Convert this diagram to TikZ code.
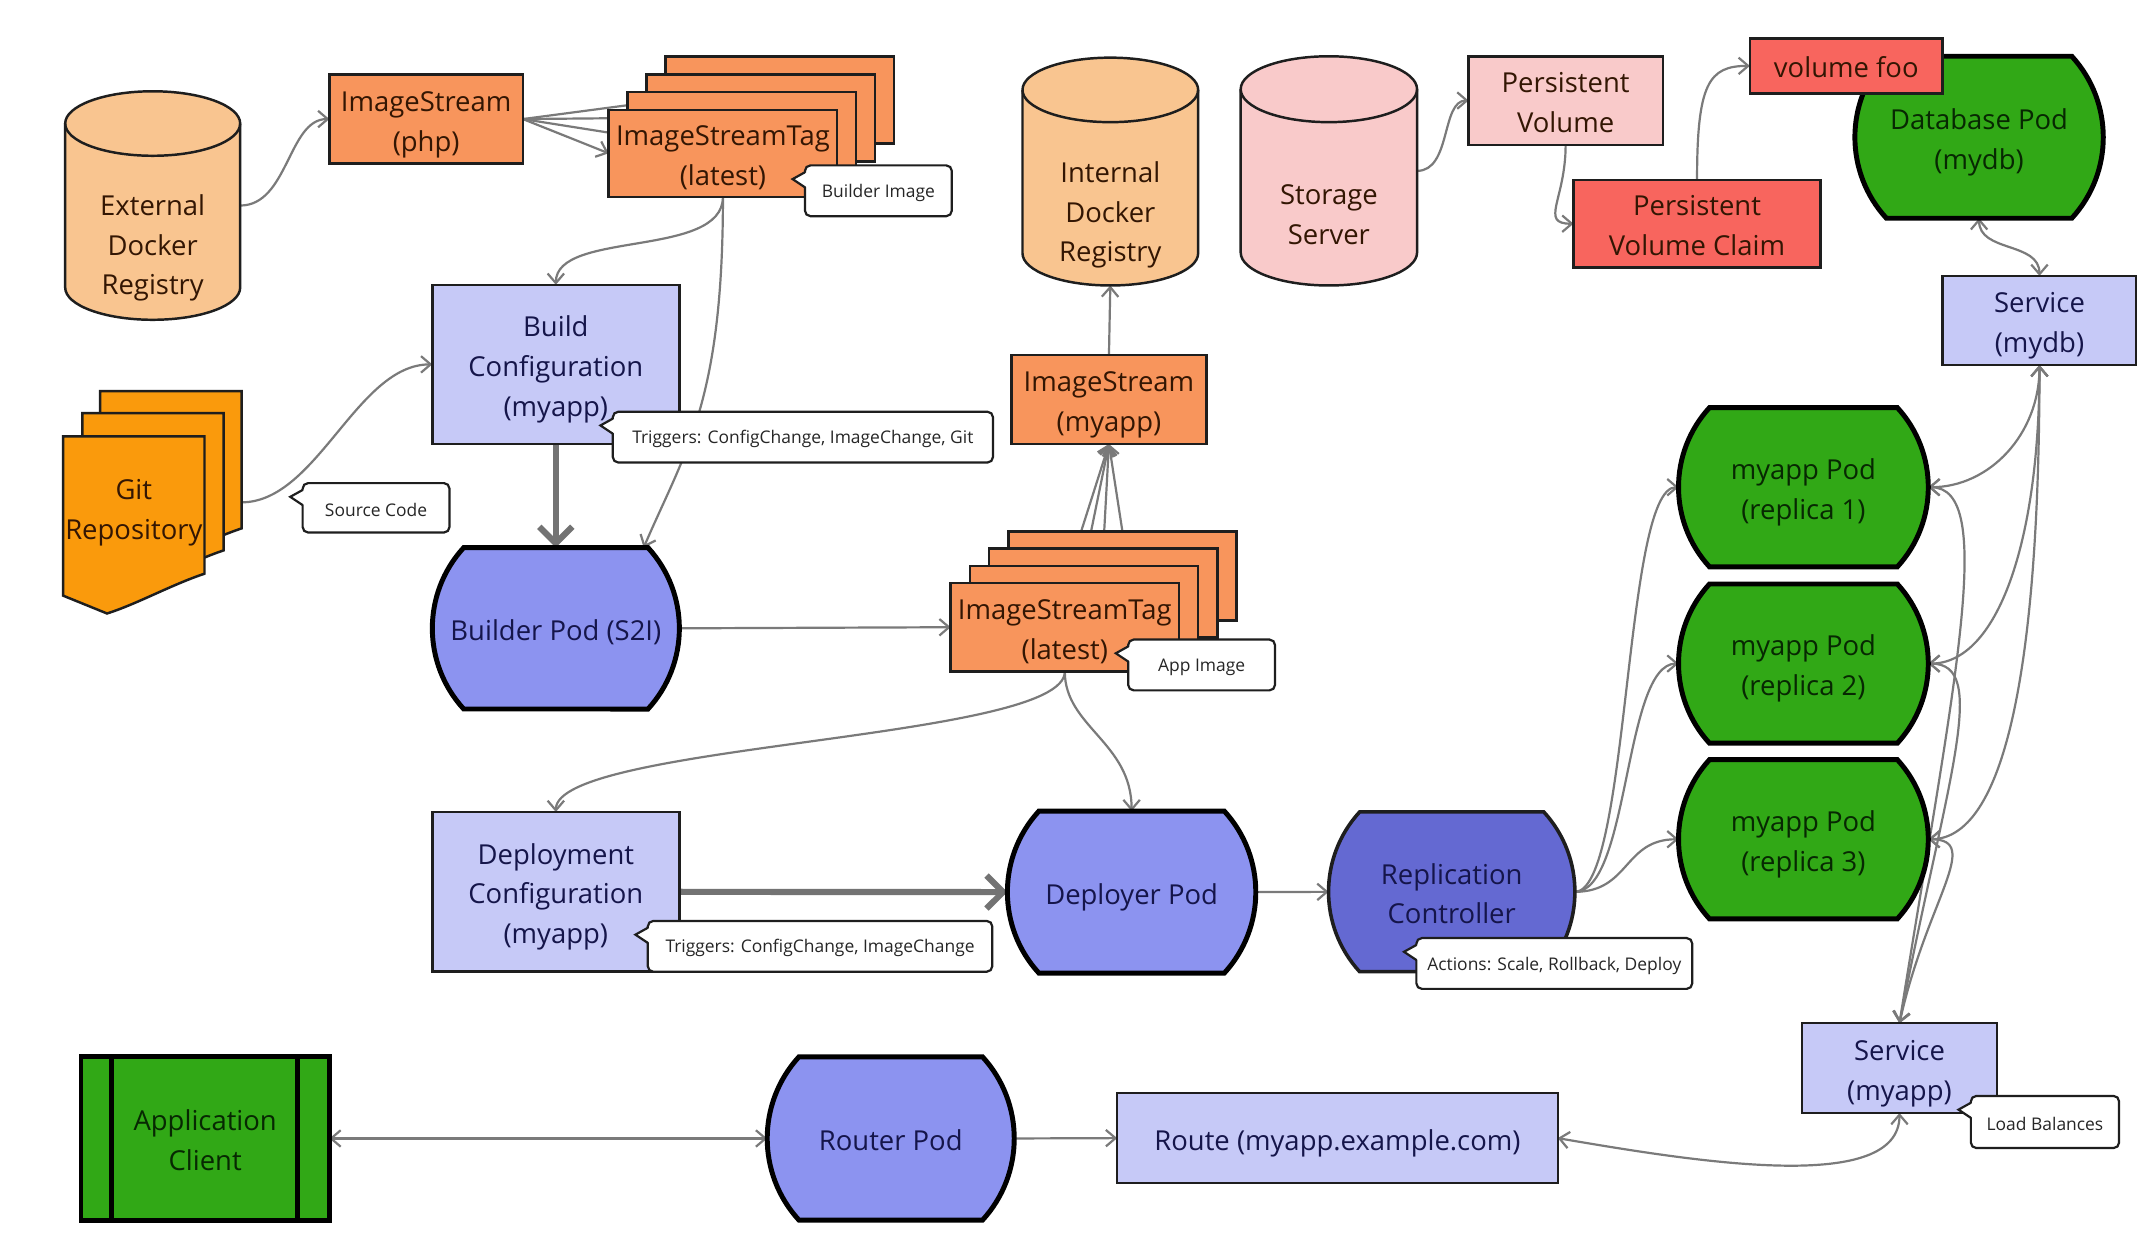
\documentclass[tikz,border=0pt]{standalone}
\usepackage{fontspec}
\setmainfont{Open Sans}
\usetikzlibrary{shapes.misc,arrows.meta,calc}
\pgfdeclarelayer{bgwhite}
\pgfdeclarelayer{links}
\pgfsetlayers{bgwhite,links,main}
\definecolor{peach}{HTML}{F9C590}
\definecolor{orng}{HTML}{F8955C}
\definecolor{gitor}{HTML}{FA9A0C}
\definecolor{lav}{HTML}{C6C9F7}
\definecolor{podblue}{HTML}{8C93F0}
\definecolor{rcblue}{HTML}{6469D2}
\definecolor{grn}{HTML}{31A816}
\definecolor{pinkbox}{HTML}{F9CACA}
\definecolor{redbox}{HTML}{F8655E}
\definecolor{conn}{HTML}{7A7A7A}
\definecolor{txtbrown}{HTML}{331603}
\definecolor{txtnavy}{HTML}{15154A}
\definecolor{txtgreen}{HTML}{072802}
\definecolor{edge}{HTML}{1E1E1E}
\tikzset{
  every node/.style={inner sep=0pt, outer sep=0pt, align=center, font=\fontsize{20}{29}\selectfont},
  hold/.style={draw=none, fill=none},
  rectn/.style={draw=edge, line width=1.8pt},
  podn/.style={rounded rectangle, rounded rectangle arc length=85, draw=black, line width=3.6pt},
  callout/.style={draw=edge, line width=1.6pt, fill=white, rounded corners=4pt, font=\fontsize{12.7}{15}\selectfont, text=black!85},
  link/.style={draw=conn, line width=1.6pt},
  thicklink/.style={draw=black!55, line width=4.5pt, arrows={-Straight Barb[length=12pt,width=24pt]}},
  >={Straight Barb[length=7pt,width=12pt]}
}
\newcommand\tl[1]{\raisebox{-3pt}[\height][\depth]{\begin{tabular}{@{}c@{}}#1\end{tabular}}}
\newcommand\cl[1]{\raisebox{-1.5pt}[\height][\depth]{#1}}
\newcommand\cylsh[6]{% x1 y1 x2 y2 fill ry
  \path[draw=edge, line width=1.8pt, fill=#5]
    (#1,#2+#6) -- (#1,#4-#6)
    arc[start angle=180, end angle=0, x radius={(#3-#1)/2}, y radius=#6]
    -- (#3,#2+#6)
    arc[start angle=0, end angle=-180, x radius={(#3-#1)/2}, y radius=#6]
    -- cycle;
  \draw[edge, line width=1.8pt] (#1,#2+#6)
    arc[start angle=180, end angle=0, x radius={(#3-#1)/2}, y radius=#6];
}
\newcommand\gitdoc[2]{%
  \draw[fill=gitor, draw=edge, line width=1.8pt, shift={(#1,#2)}]
    (46,318) -- (149,318) -- (149,418) .. controls (125,426) and (100,440) .. (78,447) -- (46,434) -- cycle;
}
\newcommand\tail[1]{%
  \fill[white] ($(#1.north west)+(1.5,5)$) -- ++(-10.5,5) -- ++(10.5,6) -- cycle;
  \draw[edge, line width=1.6pt, line join=miter] ($(#1.north west)+(0,5)$) -- ++(-9,5) -- ++(9,6);
}
\begin{document}
\begin{tikzpicture}[x=1pt,y=-1pt]
\begin{pgfonlayer}{bgwhite}
\fill[white] (0,0) rectangle (1568,913.7);
\end{pgfonlayer}
\useasboundingbox (0,0) rectangle (1568,913.7);

% --- cylinders
\cylsh{47.5}{66.5}{175}{233}{peach}{23.5}
\node[hold, minimum width=127.5, minimum height=166.5] (edr) at (111.25,149.75) {};
\node[text=txtbrown] (edrt) at (111.25,177) {\tl{External\\Docker\\Registry}};
\cylsh{745}{42}{873}{208}{peach}{23.5}
\node[hold, minimum width=128, minimum height=166] (idr) at (809,125) {};
\node[text=txtbrown] (idrt) at (809,153) {\tl{Internal\\Docker\\Registry}};
\cylsh{904}{41}{1032.5}{208}{pinkbox}{24}
\node[hold, minimum width=128.5, minimum height=167] (ss) at (968.25,124.5) {};
\node[text=txtbrown] (sst) at (968.25,154.5) {\tl{Storage\\Server}};

% --- image streams
\node[rectn, fill=orng, text=txtbrown, minimum width=141, minimum height=65] (isphp) at (310.5,86.75) {\tl{ImageStream\\(php)}};
\node[rectn, fill=orng, minimum width=166.5, minimum height=63.4] (ist1d) at (568.15,73.0) {};
\node[rectn, fill=orng, minimum width=166.5, minimum height=63.4] (ist1c) at (554.35,85.9) {};
\node[rectn, fill=orng, minimum width=166.5, minimum height=63.4] (ist1b) at (540.55,98.8) {};
\node[rectn, fill=orng, text=txtbrown, minimum width=166.5, minimum height=63.4] (ist1a) at (526.75,111.7) {\tl{ImageStreamTag\\(latest)}};

\node[rectn, fill=orng, text=txtbrown, minimum width=142, minimum height=64.8] (ismy) at (808,291.1) {\tl{ImageStream\\(myapp)}};
\node[rectn, fill=orng, minimum width=166.3, minimum height=64.8] (ist2d) at (817.85,419.8) {};
\node[rectn, fill=orng, minimum width=166.3, minimum height=64.8] (ist2c) at (803.85,432.2) {};
\node[rectn, fill=orng, minimum width=166.3, minimum height=64.8] (ist2b) at (789.85,444.6) {};
\node[rectn, fill=orng, text=txtbrown, minimum width=166.3, minimum height=64.8] (ist2a) at (775.85,457) {\tl{ImageStreamTag\\(latest)}};

% --- git
\gitdoc{27}{-33}
\gitdoc{14}{-17}
\gitdoc{0}{0}
\node[hold, minimum width=130, minimum height=162] (git) at (111,366) {};
\node[text=txtbrown] (gitt) at (97.5,370) {\tl{Git\\Repository}};

% --- build
\node[rectn, fill=lav, text=txtnavy, minimum width=180, minimum height=116] (bc) at (405,265.5) {\tl{Build\\Configuration\\(myapp)}};
\node[podn, fill=podblue, text=txtnavy, minimum width=180, minimum height=117.6] (bp) at (405,457.8) {\tl{Builder Pod (S2I)}};

% --- storage
\node[rectn, fill=pinkbox, text=txtbrown, minimum width=141.5, minimum height=64.5] (pv) at (1140.75,73.25) {\tl{Persistent\\Volume}};
\node[rectn, fill=redbox, text=txtbrown, minimum width=180, minimum height=64] (pvc) at (1236.5,163) {\tl{Persistent\\Volume Claim}};
\node[podn, fill=grn, text=txtgreen, minimum width=181, minimum height=118] (db) at (1442,100) {\tl{Database Pod\\(mydb)}};
\node[rectn, fill=redbox, text=txtbrown, minimum width=140.5, minimum height=40] (vfoo) at (1345.25,48) {\tl{volume foo}};
\node[rectn, fill=lav, text=txtnavy, minimum width=141, minimum height=65] (smydb) at (1486,233.5) {\tl{Service\\(mydb)}};

% --- replicas
\node[podn, fill=grn, text=txtgreen, minimum width=182, minimum height=116] (r1) at (1314,355) {\tl{myapp Pod\\(replica 1)}};
\node[podn, fill=grn, text=txtgreen, minimum width=182, minimum height=116] (r2) at (1314,483.5) {\tl{myapp Pod\\(replica 2)}};
\node[podn, fill=grn, text=txtgreen, minimum width=182, minimum height=116] (r3) at (1314,611.5) {\tl{myapp Pod\\(replica 3)}};

% --- deploy
\node[rectn, fill=lav, text=txtnavy, minimum width=180, minimum height=116.4] (dc) at (405,649.8) {\tl{Deployment\\Configuration\\(myapp)}};
\node[podn, fill=podblue, text=txtnavy, minimum width=181, minimum height=118] (dp) at (824.5,650) {\tl{Deployer Pod}};
\node[podn, fill=rcblue, text=txtnavy, draw=edge, line width=2.6pt, minimum width=179.5, minimum height=116.4] (rc) at (1057.75,649.8) {\tl{Replication\\Controller}};

% --- bottom row
\node[rectn, fill=lav, text=txtnavy, minimum width=142, minimum height=65.5] (smy) at (1384,778.25) {\tl{Service\\(myapp)}};
\node[rectn, fill=lav, text=txtnavy, minimum width=321, minimum height=65.5] (route) at (974.5,829.25) {\tl{Route (myapp.example.com)}};
\node[draw=black, line width=3.6pt, fill=grn, text=txtgreen, minimum width=181, minimum height=119] (ac) at (149.5,829.5) {\tl{Application\\Client}};
\draw[black, line width=3.6pt] ([xshift=22.5pt]ac.north west) -- ([xshift=22.5pt]ac.south west);
\draw[black, line width=3.6pt] ([xshift=-23pt]ac.north east) -- ([xshift=-23pt]ac.south east);
\node[podn, fill=podblue, text=txtnavy, minimum width=180, minimum height=119] (router) at (649,829.5) {\tl{Router Pod}};

% --- callouts
\node[callout, minimum width=107, minimum height=37] (cbi) at (640,139) {\cl{Builder Image}};
\tail{cbi}
\node[callout, minimum width=277, minimum height=37] (ctr1) at (585,318.5) {\cl{Triggers: ConfigChange, ImageChange, Git}};
\tail{ctr1}
\node[callout, minimum width=107, minimum height=36] (csrc) at (274,370) {\cl{Source Code}};
\tail{csrc}
\node[callout, minimum width=107, minimum height=37] (capp) at (875.5,484.5) {\cl{App Image}};
\tail{capp}
\node[callout, minimum width=251, minimum height=37] (ctr2) at (597.5,689.5) {\cl{Triggers: ConfigChange, ImageChange}};
\tail{ctr2}
\node[callout, minimum width=201, minimum height=37] (cact) at (1132.5,702) {\cl{Actions: Scale, Rollback, Deploy}};
\tail{cact}
\node[callout, minimum width=108, minimum height=38] (clb) at (1490,817.5) {\cl{Load Balances}};
\tail{clb}

% --- connectors
\begin{pgfonlayer}{links}
\draw[link,->] (edr.east) .. controls +(35,0) and +(-30,0) .. (isphp.west);
\draw[link,->] (isphp.east) -- (ist1a.west);
\draw[link,->] (isphp.east) -- (ist1b.west);
\draw[link,->] (isphp.east) -- (ist1c.west);
\draw[link,->] (isphp.east) -- (ist1d.west);
\draw[link,->] (ist1a.south) .. controls +(0,45) and +(0,-40) .. (bc.north);
\draw[link,->] (ist1a.south) .. controls +(0,150) and +(30,-70) .. ([xshift=64pt]bp.north);
\draw[link,->] (git.east) .. controls +(55,0) and +(-55,0) .. (bc.west);
\draw[thicklink] (bc.south) -- (bp.north);
\draw[link,->] (bp.east) -- (ist2a.west);
\draw[link,->] (ist2a.north) -- (ismy.south);
\draw[link,->] (ist2b.north) -- (ismy.south);
\draw[link,->] (ist2c.north) -- (ismy.south);
\draw[link,->] (ist2d.north) -- (ismy.south);
\draw[link,->] (ismy.north) -- (idr.south);
\draw[link,->] (ss.east) .. controls +(25,0) and +(-20,0) .. (pv.west);
\draw[link,->] (pv.south) .. controls +(0,40) and +(-25,0) .. (pvc.west);
\draw[link,->] (pvc.north) .. controls +(0,-70) and +(-30,0) .. (vfoo.west);
\draw[link,<->] (db.south) .. controls +(0,25) and +(0,-25) .. (smydb.north);
\draw[link,->] (ist2a.south) .. controls +(0,50) and +(0,-50) .. (dc.north);
\draw[link,->] (ist2a.south) .. controls +(0,40) and +(0,-50) .. (dp.north);
\draw[thicklink] (dc.east) -- (dp.west);
\draw[link,->] (dp.east) -- (rc.west);
\draw[link,->] (rc.east) .. controls +(40,0) and +(-40,0) .. (r1.west);
\draw[link,->] (rc.east) .. controls +(40,0) and +(-40,0) .. (r2.west);
\draw[link,->] (rc.east) .. controls +(40,0) and +(-40,0) .. (r3.west);
\draw[link,<->] (smydb.south) .. controls +(0,50) and +(45,0) .. (r1.east);
\draw[link,<->] (smydb.south) .. controls +(0,130) and +(50,0) .. (r2.east);
\draw[link,<->] (smydb.south) .. controls +(0,200) and +(60,0) .. (r3.east);
\draw[link,<->] (r1.east) .. controls +(50,0) and +(40,-250) .. (smy.north);
\draw[link,<->] (r2.east) .. controls +(45,0) and +(35,-180) .. (smy.north);
\draw[link,<->] (r3.east) .. controls +(40,0) and +(20,-90) .. (smy.north);
\draw[link,<->] (ac.east) -- (router.west);
\draw[link,->] (router.east) -- (route.west);
\draw[link,<->] (route.east) .. controls +(105,18) and +(0,59) .. (smy.south);
\end{pgfonlayer}
\end{tikzpicture}
\end{document}
